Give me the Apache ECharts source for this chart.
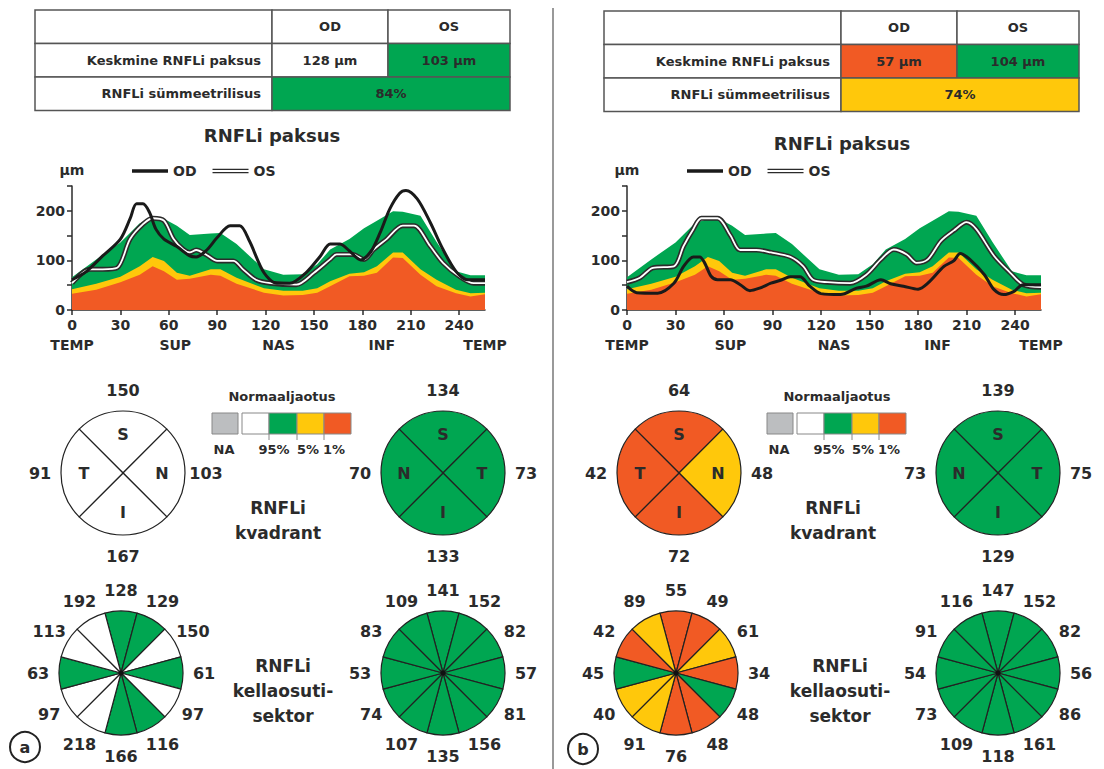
<!DOCTYPE html>
<html>
<head>
<meta charset="utf-8">
<title>RNFLi paksus</title>
<script src="https://cdn.jsdelivr.net/npm/echarts@6/dist/echarts.min.js"></script>
<style>
html, body { margin: 0; padding: 0; background: #fff; }
#main { width: 1104px; height: 769px; }
</style>
</head>
<body>
<div id="main"></div>
<script>
var FONT = '"DejaVu Sans", sans-serif';
var TXT = '#2b2b2b';
var COLORS = { w: '#ffffff', g: '#00a651', y: '#ffc80b', r: '#f15a24', na: '#bcbec0' };

// normaalvahemik (sama mõlemal paneelil), x = mõõtepunkt 0..256
var normX   = [0, 15, 30, 42, 50, 57, 65, 73, 86, 92, 102, 119, 131, 143, 152, 160, 172, 181, 189, 199, 205, 216, 226, 238, 247, 256];
var normP95 = [66, 102, 136, 175, 184, 184, 170, 151, 154, 155, 133, 82, 71, 72, 92, 122, 143, 165, 180, 199, 198, 190, 137, 78, 70, 70];
var normP5  = [42, 53, 67, 88, 107, 99, 75, 69, 82, 82, 65, 44, 39, 39, 44, 58, 73, 76, 88, 116, 116, 82, 61, 41, 34, 35];
var normP1  = [33, 41, 56, 71, 88, 78, 61, 63, 71, 69, 53, 35, 29, 30, 35, 48, 68, 69, 75, 106, 105, 71, 48, 34, 27, 32];

// paneel a
var aOdX = [0, 9, 19, 30, 36, 40, 44, 48, 52, 57, 65, 73, 77, 83, 90, 98, 104, 110, 119, 127, 135, 145, 154, 160, 166, 172, 179, 185, 191, 197, 203, 207, 214, 222, 230, 238, 245, 256];
var aOdY = [61, 78, 109, 143, 184, 214, 214, 197, 163, 143, 128, 109, 107, 119, 146, 170, 170, 139, 75, 54, 54, 75, 109, 133, 133, 119, 101, 116, 156, 204, 235, 241, 224, 177, 122, 78, 61, 61];
var aOsX = [0, 11, 19, 28, 36, 44, 50, 57, 63, 69, 73, 77, 83, 90, 100, 106, 114, 123, 139, 150, 160, 164, 174, 181, 187, 195, 205, 212, 222, 230, 240, 249, 256];
var aOsY = [54, 82, 82, 85, 143, 173, 185, 180, 143, 122, 116, 121, 112, 99, 99, 82, 61, 54, 51, 75, 102, 112, 112, 102, 122, 143, 170, 170, 129, 95, 68, 54, 54];

// paneel b
var bOdX = [0, 6, 19, 29, 35, 41, 45, 48, 52, 56, 64, 70, 76, 82, 89, 95, 101, 107, 113, 120, 132, 142, 148, 157, 163, 171, 180, 186, 196, 202, 206, 212, 221, 227, 233, 239, 245, 256];
var bOdY = [48, 35, 34, 54, 88, 107, 107, 95, 68, 61, 61, 51, 39, 44, 54, 60, 67, 67, 48, 33, 31, 44, 48, 61, 53, 48, 42, 54, 88, 99, 114, 102, 71, 41, 31, 37, 51, 51];
var bOsX = [0, 8, 16, 29, 35, 41, 46, 56, 64, 70, 80, 89, 101, 109, 115, 124, 138, 148, 157, 165, 173, 179, 186, 194, 202, 210, 216, 227, 237, 245, 256];
var bOsY = [56, 65, 85, 88, 129, 163, 185, 185, 150, 121, 121, 116, 107, 88, 61, 56, 54, 71, 102, 122, 112, 95, 102, 139, 160, 177, 163, 109, 75, 51, 46];

var xTicks = [0, 30, 60, 90, 120, 150, 180, 210, 240];
var sectorPos = [0, 64, 128, 192, 256];
var sectorNames = ['TEMP', 'SUP', 'NAS', 'INF', 'TEMP'];

// tabelid
var eyeNames = ['OD', 'OS'];
var rowLabels = ['Keskmine RNFLi paksus', 'RNFLi sümmeetrilisus'];
var thickA = ['128 µm', '103 µm'];
var thickStA = ['w', 'g'];
var symA = '84%';
var symStA = 'g';
var thickB = ['57 µm', '104 µm'];
var thickStB = ['r', 'g'];
var symB = '74%';
var symStB = 'y';

// kvadrandid: ülemine, parem, alumine, vasak
var quadLetOD = ['S', 'N', 'I', 'T'];
var quadLetOS = ['S', 'T', 'I', 'N'];
var quadA_OD = [150, 103, 167, 91];
var quadStA_OD = ['w', 'w', 'w', 'w'];
var quadA_OS = [134, 73, 133, 70];
var quadStA_OS = ['g', 'g', 'g', 'g'];
var quadB_OD = [64, 48, 72, 42];
var quadStB_OD = ['r', 'y', 'r', 'r'];
var quadB_OS = [139, 75, 129, 73];
var quadStB_OS = ['g', 'g', 'g', 'g'];

// kellaosuti-sektorid, kell 12, 1, 2 ... 11
var clockA_OD = [128, 129, 150, 61, 97, 116, 166, 218, 97, 63, 113, 192];
var clockStA_OD = ['g', 'g', 'w', 'g', 'w', 'g', 'g', 'w', 'w', 'g', 'w', 'w'];
var clockA_OS = [141, 152, 82, 57, 81, 156, 135, 107, 74, 53, 83, 109];
var clockStA_OS = ['g', 'g', 'g', 'g', 'g', 'g', 'g', 'g', 'g', 'g', 'g', 'g'];
var clockB_OD = [55, 49, 61, 34, 48, 48, 76, 91, 40, 45, 42, 89];
var clockStB_OD = ['r', 'r', 'y', 'r', 'g', 'r', 'r', 'y', 'y', 'g', 'r', 'y'];
var clockB_OS = [147, 152, 82, 56, 86, 161, 118, 109, 73, 54, 91, 116];
var clockStB_OS = ['g', 'g', 'g', 'g', 'g', 'g', 'g', 'g', 'g', 'g', 'g', 'g'];

var normKeys = ['na', 'w', 'g', 'y', 'r'];
var normLabels = ['NA', '95%', '5%', '1%'];

function pts(xs, ys) {
	return xs.map(function (x, i) { return [x, ys[i]]; });
}

function txt(text, x, y, size, align) {
	return {
		type: 'text',
		silent: true,
		style: {
			text: text, x: x, y: y,
			fill: TXT,
			font: 'bold ' + size + 'px ' + FONT,
			align: align || 'center',
			verticalAlign: 'middle',
			lineHeight: Math.round(size * 1.45)
		}
	};
}

function rect(x, y, w, h, fill, stroke, lw) {
	return {
		type: 'rect',
		silent: true,
		shape: { x: x, y: y, width: w, height: h },
		style: { fill: fill, stroke: stroke, lineWidth: lw }
	};
}

function tableGraphics(x0, y0, colW, rowH, thick, thickSt, sym, symSt) {
	var g = [];
	var cx = [x0, x0 + colW[0], x0 + colW[0] + colW[1]];
	function cell(c, r, w, key, text, align) {
		var x = cx[c], y = y0 + r * rowH;
		g.push(rect(x, y, w, rowH, COLORS[key], '#555', 1.5));
		if (text) {
			g.push(txt(text, align === 'right' ? x + w - 11 : x + w / 2, y + rowH / 2, 13, align));
		}
	}
	cell(0, 0, colW[0], 'w', '', 'right');
	cell(1, 0, colW[1], 'w', eyeNames[0], 'center');
	cell(2, 0, colW[2], 'w', eyeNames[1], 'center');
	cell(0, 1, colW[0], 'w', rowLabels[0], 'right');
	cell(1, 1, colW[1], thickSt[0], thick[0], 'center');
	cell(2, 1, colW[2], thickSt[1], thick[1], 'center');
	cell(0, 2, colW[0], 'w', rowLabels[1], 'right');
	cell(1, 2, colW[1] + colW[2], symSt, sym, 'center');
	return g;
}

function normLegend(x0, cxText) {
	var g = [txt('Normaaljaotus', cxText, 396, 13)];
	var bx = [x0, x0 + 30, x0 + 57, x0 + 85, x0 + 112, x0 + 139];
	g.push(rect(bx[0], 413, 26, 21, COLORS.na, '#888', 1));
	for (var i = 1; i < 5; i++) {
		g.push(rect(bx[i], 413, bx[i + 1] - bx[i], 21, COLORS[normKeys[i]], '#888', 1));
	}
	[bx[2], bx[3], bx[4]].forEach(function (x) {
		g.push({ type: 'line', silent: true, shape: { x1: x, y1: 434, x2: x, y2: 440 }, style: { stroke: '#888', lineWidth: 1 } });
	});
	var lx = [x0 + 12, x0 + 62, x0 + 96, x0 + 122];
	normLabels.forEach(function (t, i) { g.push(txt(t, lx[i], 449, 13)); });
	return g;
}

function discSeries(cx, cy, startAngle, values, st, letters, dot) {
	var out = [];
	out.push({
		type: 'pie', center: [cx, cy], radius: [0, 62], startAngle: startAngle, clockwise: true,
		silent: true, animation: false, avoidLabelOverlap: false,
		label: { show: false }, labelLine: { show: false },
		itemStyle: { borderColor: '#222', borderWidth: 1.2 },
		data: values.map(function (v, i) {
			return { name: String(v), value: 1, itemStyle: { color: COLORS[st[i]] } };
		})
	});
	out.push({
		type: 'pie', center: [cx, cy], radius: [62, 98], startAngle: startAngle, clockwise: true,
		silent: true, animation: false, avoidLabelOverlap: false,
		itemStyle: { color: 'rgba(0,0,0,0)', borderWidth: 0 },
		label: { show: true, position: 'inside', formatter: '{b}', fontFamily: FONT, fontWeight: 'bold', fontSize: 16, color: TXT },
		labelLine: { show: false },
		data: values.map(function (v) { return { name: String(v), value: 1 }; })
	});
	if (letters) {
		out.push({
			type: 'pie', center: [cx, cy], radius: [0, 72], startAngle: startAngle, clockwise: true,
			silent: true, animation: false, avoidLabelOverlap: false,
			itemStyle: { color: 'rgba(0,0,0,0)', borderWidth: 0 },
			label: { show: true, position: 'inside', formatter: '{b}', fontFamily: FONT, fontWeight: 'bold', fontSize: 16, color: TXT },
			labelLine: { show: false },
			data: letters.map(function (l) { return { name: l, value: 1 }; })
		});
	}
	if (dot) {
		out.push({
			type: 'pie', center: [cx, cy], radius: [0, 2.5], silent: true, animation: false,
			label: { show: false }, labelLine: { show: false },
			data: [{ value: 1, name: 'c', itemStyle: { color: '#111' } }]
		});
	}
	return out;
}

function lineSeries(idx, odX, odY, osX, osY) {
	var base = { type: 'line', xAxisIndex: idx * 2, yAxisIndex: idx, symbol: 'none', silent: true, animation: false };
	function band(ys, color) {
		return Object.assign({}, base, {
			name: 'norm', data: pts(normX, ys), z: 1,
			lineStyle: { width: 0 }, areaStyle: { color: color, opacity: 1 }
		});
	}
	return [
		band(normP95, COLORS.g),
		band(normP5, COLORS.y),
		band(normP1, COLORS.r),
		Object.assign({}, base, { name: 'OS', data: pts(osX, osY), smooth: 0.3, z: 3,
			lineStyle: { color: '#2b2b2b', width: 5 }, itemStyle: { color: '#2b2b2b' } }),
		Object.assign({}, base, { name: 'OS_sisu', data: pts(osX, osY), smooth: 0.3, z: 4,
			lineStyle: { color: '#ffffff', width: 1.8 } }),
		Object.assign({}, base, { name: 'OD', data: pts(odX, odY), smooth: 0.3, z: 5,
			lineStyle: { color: '#1a1a1a', width: 3 }, itemStyle: { color: '#1a1a1a' } })
	];
}

var axisText = { fontFamily: FONT, fontWeight: 'bold', fontSize: 14, color: TXT };
var axisLn = { color: '#2b2b2b', width: 1.5 };

function xAxes(idx) {
	return [{
		type: 'value', gridIndex: idx, min: 0, max: 256, position: 'bottom',
		axisLine: { show: true, onZero: false, lineStyle: axisLn },
		axisTick: { show: true, length: 5, customValues: xTicks, lineStyle: axisLn },
		axisLabel: Object.assign({ customValues: xTicks, margin: 8 }, axisText),
		splitLine: { show: false }
	}, {
		type: 'value', gridIndex: idx, min: 0, max: 256, position: 'bottom',
		axisLine: { show: false }, axisTick: { show: false },
		axisLabel: Object.assign({
			customValues: sectorPos, margin: 28,
			formatter: function (v) { return sectorNames[sectorPos.indexOf(v)]; }
		}, axisText),
		splitLine: { show: false }
	}];
}

function yAxis(idx) {
	return {
		type: 'value', gridIndex: idx, min: 0, max: 250, interval: 50,
		name: 'µm', nameLocation: 'end', nameGap: 9, nameTextStyle: axisText,
		axisLine: { show: true, lineStyle: axisLn },
		axisTick: { show: true, length: 5, lineStyle: axisLn },
		axisLabel: Object.assign({ margin: 7, formatter: function (v) { return v % 100 === 0 ? v : ''; } }, axisText),
		splitLine: { show: false }
	};
}

function lineLegend(left) {
	return {
		left: left, top: 159, orient: 'horizontal', selectedMode: false,
		itemWidth: 36, itemHeight: 5, itemGap: 16,
		textStyle: { fontFamily: FONT, fontWeight: 'bold', fontSize: 14, color: TXT },
		data: [
			{ name: 'OD', icon: 'path://M0,0H40V4H0Z' },
			{ name: 'OS', icon: 'path://M0,0H40V1.5H0ZM0,3.5H40V5H0Z' }
		]
	};
}

var graphics = [];
graphics = graphics.concat(tableGraphics(35, 10, [237, 116, 122], 33.5, thickA, thickStA, symA, symStA));
graphics = graphics.concat(tableGraphics(604, 11, [237, 116, 122], 33.5, thickB, thickStB, symB, symStB));
graphics.push(txt('RNFLi paksus', 272, 135, 18));
graphics.push(txt('RNFLi paksus', 842, 143, 18));
graphics = graphics.concat(normLegend(212, 282));
graphics = graphics.concat(normLegend(767, 837));
graphics.push(txt('RNFLi\nkvadrant', 278, 520, 17));
graphics.push(txt('RNFLi\nkvadrant', 833, 520, 17));
graphics.push(txt('RNFLi\nkellaosuti-\nsektor', 283, 691, 17));
graphics.push(txt('RNFLi\nkellaosuti-\nsektor', 840, 691, 17));
graphics.push({ type: 'line', silent: true, shape: { x1: 553, y1: 8, x2: 553, y2: 769 }, style: { stroke: '#999', lineWidth: 2 } });
[[25, 747, 'a'], [583, 749, 'b']].forEach(function (c) {
	graphics.push({ type: 'circle', silent: true, shape: { cx: c[0], cy: c[1], r: 15 }, style: { fill: '#fff', stroke: '#222', lineWidth: 2 } });
	graphics.push(txt(c[2], c[0], c[1], 16));
});

var series = []
	.concat(lineSeries(0, aOdX, aOdY, aOsX, aOsY))
	.concat(lineSeries(1, bOdX, bOdY, bOsX, bOsY))
	.concat(discSeries(123, 473, 135, quadA_OD, quadStA_OD, quadLetOD, false))
	.concat(discSeries(443, 473, 135, quadA_OS, quadStA_OS, quadLetOS, false))
	.concat(discSeries(679, 473, 135, quadB_OD, quadStB_OD, quadLetOD, false))
	.concat(discSeries(998, 473, 135, quadB_OS, quadStB_OS, quadLetOS, false))
	.concat(discSeries(121, 673, 105, clockA_OD, clockStA_OD, null, true))
	.concat(discSeries(443, 673, 105, clockA_OS, clockStA_OS, null, true))
	.concat(discSeries(676, 673, 105, clockB_OD, clockStB_OD, null, true))
	.concat(discSeries(998, 673, 105, clockB_OS, clockStB_OS, null, true));

var myChart = echarts.init(document.getElementById('main'), null, { renderer: 'svg', width: 1104, height: 769 });
var option = {
	backgroundColor: '#ffffff',
	animation: false,
	legend: [lineLegend(127), lineLegend(682)],
	grid: [
		{ left: 72, top: 186, width: 413, height: 124 },
		{ left: 627, top: 186, width: 414, height: 124 }
	],
	xAxis: xAxes(0).concat(xAxes(1)),
	yAxis: [yAxis(0), yAxis(1)],
	graphic: graphics,
	series: series
};
myChart.setOption(option);
</script>
</body>
</html>
